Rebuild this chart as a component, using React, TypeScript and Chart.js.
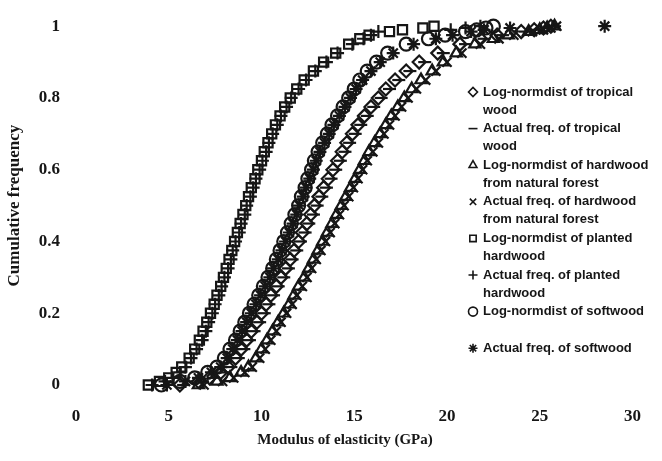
import React, { useEffect, useRef } from 'react';
import { Chart, registerables } from 'chart.js';
import { drawPoint } from 'chart.js/helpers';

Chart.register(...registerables);

// Cumulative frequency levels shared by all series
const cumFreq = [
  0, 0.01, 0.02, 0.035, 0.05, 0.075, 0.1, 0.125, 0.15, 0.175, 0.2, 0.225, 0.25, 0.275, 0.3, 0.325,
  0.35, 0.375, 0.4, 0.425, 0.45, 0.475, 0.5, 0.525, 0.55, 0.575, 0.6, 0.625, 0.65, 0.675, 0.7,
  0.725, 0.75, 0.775, 0.8, 0.825, 0.85, 0.875, 0.9, 0.925, 0.95, 0.965, 0.975, 0.985, 0.99, 0.995, 1,
];

// Modulus of elasticity (GPa) at each cumulative frequency level
const tropicalFit = [5.6, 6.6, 7.2, 7.8, 8.2, 8.6, 8.9, 9.2, 9.45, 9.75, 10.0, 10.25, 10.5, 10.8, 11.05, 11.3, 11.55, 11.75, 12.0, 12.2, 12.45, 12.65, 12.85, 13.1, 13.35, 13.6, 13.85, 14.1, 14.35, 14.6, 14.9, 15.2, 15.55, 15.9, 16.3, 16.7, 17.2, 17.8, 18.5, 19.5, 20.7, 21.8, 22.7, 24.0, 24.7, 25.2, 25.6];
const tropicalActual = [5.8, 6.8, 7.4, 8.0, 8.35, 8.75, 9.05, 9.35, 9.6, 9.9, 10.15, 10.4, 10.65, 10.9, 11.2, 11.45, 11.65, 11.9, 12.1, 12.35, 12.55, 12.8, 13.0, 13.25, 13.5, 13.75, 14.0, 14.25, 14.5, 14.75, 15.05, 15.35, 15.7, 16.05, 16.45, 16.9, 17.4, 18.0, 18.8, 19.8, 21.0, 22.0, 23.0, 24.2, 24.9, 25.4, 25.8];
const naturalFit = [6.6, 7.6, 8.3, 8.9, 9.3, 9.7, 10.0, 10.3, 10.6, 10.9, 11.2, 11.5, 11.75, 12.0, 12.3, 12.55, 12.8, 13.05, 13.3, 13.55, 13.8, 14.05, 14.3, 14.55, 14.8, 15.05, 15.3, 15.55, 15.8, 16.1, 16.4, 16.7, 17.0, 17.35, 17.7, 18.1, 18.6, 19.2, 19.8, 20.5, 21.5, 22.5, 23.3, 24.4, 25.0, 25.4, 25.8];
const naturalActual = [6.9, 7.9, 8.5, 9.1, 9.5, 9.9, 10.2, 10.5, 10.8, 11.05, 11.35, 11.65, 11.9, 12.2, 12.45, 12.7, 12.95, 13.2, 13.45, 13.7, 13.95, 14.2, 14.45, 14.7, 14.95, 15.2, 15.45, 15.7, 16.0, 16.3, 16.6, 16.9, 17.2, 17.55, 17.9, 18.35, 18.85, 19.4, 20.0, 20.8, 21.8, 22.8, 23.6, 24.6, 25.2, 25.6, 25.9];
const plantedFit = [3.9, 4.5, 5.0, 5.4, 5.7, 6.1, 6.4, 6.65, 6.85, 7.05, 7.25, 7.45, 7.6, 7.8, 7.95, 8.1, 8.25, 8.4, 8.55, 8.7, 8.85, 9.0, 9.15, 9.3, 9.45, 9.65, 9.8, 10.0, 10.15, 10.35, 10.55, 10.75, 11.0, 11.25, 11.55, 11.9, 12.3, 12.8, 13.35, 14.0, 14.7, 15.3, 15.8, 16.9, 17.6, 18.7, 19.3];
const plantedActual = [4.1, 4.8, 5.2, 5.6, 5.9, 6.2, 6.5, 6.8, 7.0, 7.15, 7.35, 7.5, 7.7, 7.85, 8.0, 8.2, 8.35, 8.45, 8.6, 8.8, 8.9, 9.1, 9.2, 9.4, 9.55, 9.7, 9.9, 10.05, 10.25, 10.4, 10.6, 10.85, 11.05, 11.35, 11.6, 12.0, 12.4, 12.9, 13.5, 14.1, 14.9, 15.5, 15.9, 16.3, 20.2, 21.0, 21.8];
const softwoodFit = [4.6, 5.6, 6.4, 7.1, 7.6, 8.0, 8.3, 8.6, 8.85, 9.1, 9.35, 9.6, 9.85, 10.1, 10.35, 10.6, 10.8, 11.0, 11.2, 11.4, 11.6, 11.8, 12.0, 12.15, 12.35, 12.5, 12.7, 12.85, 13.05, 13.3, 13.55, 13.8, 14.1, 14.4, 14.7, 15.0, 15.3, 15.7, 16.2, 16.8, 17.8, 19.0, 19.9, 21.0, 21.6, 22.1, 22.5];
const softwoodActual = [4.9, 5.9, 6.6, 7.3, 7.8, 8.15, 8.45, 8.7, 8.95, 9.2, 9.45, 9.7, 9.95, 10.2, 10.45, 10.65, 10.9, 11.1, 11.3, 11.5, 11.7, 11.9, 12.05, 12.25, 12.4, 12.6, 12.8, 12.95, 13.15, 13.4, 13.65, 13.9, 14.2, 14.5, 14.8, 15.1, 15.45, 15.9, 16.4, 17.1, 18.2, 19.4, 20.3, 21.3, 22.0, 23.4, 28.5];

const seriesLabels = [
  'Log-normdist of tropical wood',
  'Actual freq. of tropical wood',
  'Log-normdist of hardwood from natural forest',
  'Actual freq. of hardwood from natural forest',
  'Log-normdist of planted hardwood',
  'Actual freq. of planted hardwood',
  'Log-normdist of softwood',
  'Actual freq. of softwood',
];
const seriesValues = [
  tropicalFit, tropicalActual, naturalFit, naturalActual,
  plantedFit, plantedActual, softwoodFit, softwoodActual,
];
const markerStyles = ['rectRot', 'line', 'triangle', 'crossRot', 'rect', 'cross', 'circle', 'star'];

const xTitle = 'Modulus of elasticity (GPa)';
const yTitle = 'Cumulative frequency';

const INK = '#161616';
const SERIF = '"Liberation Serif", "Times New Roman", serif';
const SANS = '"Liberation Sans", Arial, sans-serif';

const sideLegend = {
  id: 'sideLegend',
  afterDraw(chart: any) {
    const ctx = chart.ctx as CanvasRenderingContext2D;
    ctx.save();
    ctx.font = `bold 13px ${SANS}`;
    ctx.textBaseline = 'middle';
    ctx.textAlign = 'left';
    chart.data.datasets.forEach((ds: any, i: number) => {
      const y0 = 92 + i * 36.6;
      ctx.strokeStyle = INK;
      ctx.fillStyle = 'rgba(0,0,0,0)';
      ctx.lineWidth = 1.6;
      drawPoint(ctx, { pointStyle: ds.pointStyle, radius: 4.5, borderWidth: 1.6, rotation: 0 } as any, 473, y0);
      const words = String(ds.label).split(' ');
      const lines: string[] = [];
      let cur = '';
      for (const w of words) {
        const test = cur ? cur + ' ' + w : w;
        if (cur && ctx.measureText(test).width > 170) {
          lines.push(cur);
          cur = w;
        } else cur = test;
      }
      if (cur) lines.push(cur);
      ctx.fillStyle = INK;
      lines.forEach((ln, j) => ctx.fillText(ln, 483, y0 + j * 18));
    });
    // x axis title
    ctx.font = `bold 15px ${SERIF}`;
    ctx.textAlign = 'center';
    ctx.fillStyle = INK;
    ctx.fillText(xTitle, chart.chartArea.left + 269, 440);
    ctx.restore();
  },
};

export default function App() {
  const ref = useRef<HTMLCanvasElement | null>(null);
  useEffect(() => {
    if (!ref.current) return;
    const datasets = seriesValues.map((vals, i) => ({
      label: seriesLabels[i],
      data: vals.map((x, k) => ({ x, y: cumFreq[k] })),
      pointStyle: markerStyles[i],
      pointRadius: 6.5,
      pointBorderWidth: 2.2,
      pointBorderColor: INK,
      pointBackgroundColor: 'rgba(0,0,0,0)',
      showLine: false,
      clip: false as any,
    }));
    const chart = new Chart(ref.current, {
      type: 'scatter',
      data: { datasets: datasets as any },
      options: {
        animation: false,
        responsive: true,
        maintainAspectRatio: false,
        layout: { padding: { top: 17, right: 12, left: 0, bottom: 0 } },
        plugins: { legend: { display: false }, tooltip: { enabled: false } },
        scales: {
          x: {
            type: 'linear',
            min: 0,
            max: 30,
            grid: { display: false, drawTicks: false },
            border: { display: false },
            ticks: { stepSize: 5, padding: 21, color: INK, font: { family: SERIF, size: 17, weight: 'bold' } },
            afterFit: (s: any) => { s.height = 76; },
          },
          y: {
            min: 0,
            max: 1,
            grid: { display: false, drawTicks: false },
            border: { display: false },
            ticks: {
              stepSize: 0.2,
              padding: 16,
              color: INK,
              font: { family: SERIF, size: 17, weight: 'bold' },
              callback: (v: any) => String(Number(Number(v).toFixed(1))),
            },
            title: {
              display: true,
              text: yTitle,
              color: INK,
              font: { family: SERIF, size: 17, weight: 'bold' },
              padding: { top: 4, bottom: 0 },
            },
            afterFit: (s: any) => { s.width = 76; },
          },
        },
      },
      plugins: [sideLegend],
    });
    return () => chart.destroy();
  }, []);
  return (
    <div style={{ position: 'fixed', left: 0, top: 0, width: 662, height: 461, background: '#fff' }}>
      <canvas ref={ref} />
    </div>
  );
}
